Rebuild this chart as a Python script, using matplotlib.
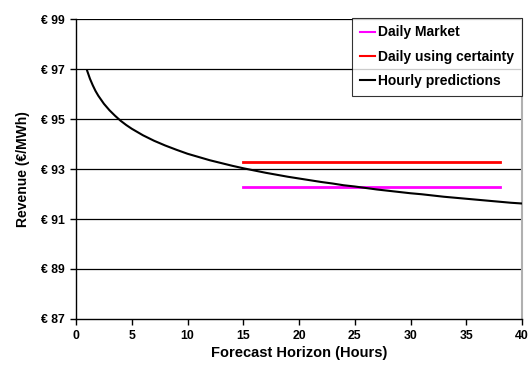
import numpy as np
import matplotlib
matplotlib.use('Agg')
import matplotlib.pyplot as plt
from matplotlib.ticker import FuncFormatter

plt.rcParams['font.family'] = ['Liberation Sans', 'DejaVu Sans']
plt.rcParams['font.weight'] = 'bold'

# 小时预测收益曲线 (预测时长 1~40 小时, 开头几小时多取几个点)
hours = [1, 1.25, 1.5, 1.75, 2, 2.5, 3, 3.5, 4, 4.5, 5, 6, 7, 8, 9, 10,
         11, 12, 13, 14, 15, 16, 17, 18, 19, 20,
         21, 22, 23, 24, 25, 26, 27, 28, 29, 30,
         31, 32, 33, 34, 35, 36, 37, 38, 39, 40]
hourly_revenue = [96.93, 96.61, 96.35, 96.12, 95.93, 95.61, 95.35, 95.13, 94.93, 94.76,
                  94.61, 94.35, 94.13, 93.94, 93.77, 93.61,
                  93.48, 93.35, 93.24, 93.13, 93.03, 92.94, 92.85, 92.77, 92.69, 92.62,
                  92.55, 92.48, 92.42, 92.35, 92.30, 92.24, 92.18, 92.13, 92.08, 92.03,
                  91.99, 91.94, 91.89, 91.85, 91.81, 91.77, 91.73, 91.69, 91.65, 91.62]

# 日前市场两条水平线
daily_hours = [15, 38]
daily_market = [92.28, 92.28]
daily_certainty = [93.3, 93.3]

x_ticks = [0, 5, 10, 15, 20, 25, 30, 35, 40]
y_ticks = [87, 89, 91, 93, 95, 97, 99]

fig = plt.figure(figsize=(5.32, 3.67), dpi=100)
ax = fig.add_axes([0.1429, 0.1308, 0.9812 - 0.1429, 0.9482 - 0.1308])

for y in y_ticks[1:]:
    ax.axhline(y, color='black', lw=0.9, zorder=1)

ax.plot(daily_hours, daily_market, color='#ff00ff', lw=2, label='Daily Market', zorder=3)
ax.plot(daily_hours, daily_certainty, color='#ff0000', lw=2, label='Daily using certainty', zorder=3)
ax.plot(hours, hourly_revenue, color='black', lw=1.5, label='Hourly predictions', zorder=4)

ax.set_xlim(0, 40)
ax.set_ylim(87, 99)
ax.set_xticks(x_ticks)
ax.set_yticks(y_ticks)
ax.yaxis.set_major_formatter(FuncFormatter(lambda v, p: f'€ {v:.0f}'))
ax.tick_params(direction='out', length=4, width=1, labelsize=8.8, pad=4)
for lab in ax.get_xticklabels() + ax.get_yticklabels():
    lab.set_fontweight('bold')

ax.spines['top'].set_visible(False)
ax.spines['right'].set_color('#b0b0b0')
ax.spines['right'].set_linewidth(1.5)
ax.spines['left'].set_linewidth(1)
ax.spines['bottom'].set_linewidth(1)

ax.set_xlabel('Forecast Horizon (Hours)', fontsize=10.5, fontweight='bold', labelpad=3)
ax.set_ylabel('Revenue (€/MWh)', fontsize=10, fontweight='bold', labelpad=8)

leg = ax.legend(loc='upper right', bbox_to_anchor=(1.0, 1.004), fontsize=10,
                frameon=True, fancybox=False, handlelength=1.1, handletextpad=0.25,
                borderpad=0.55, labelspacing=0.75, borderaxespad=0)
leg.get_frame().set_edgecolor('black')
leg.get_frame().set_linewidth(0.8)
for t in leg.get_texts():
    t.set_fontweight('bold')
for h in leg.get_lines():
    h.set_linewidth(1.5)

fig.savefig('out.png', dpi=100)
